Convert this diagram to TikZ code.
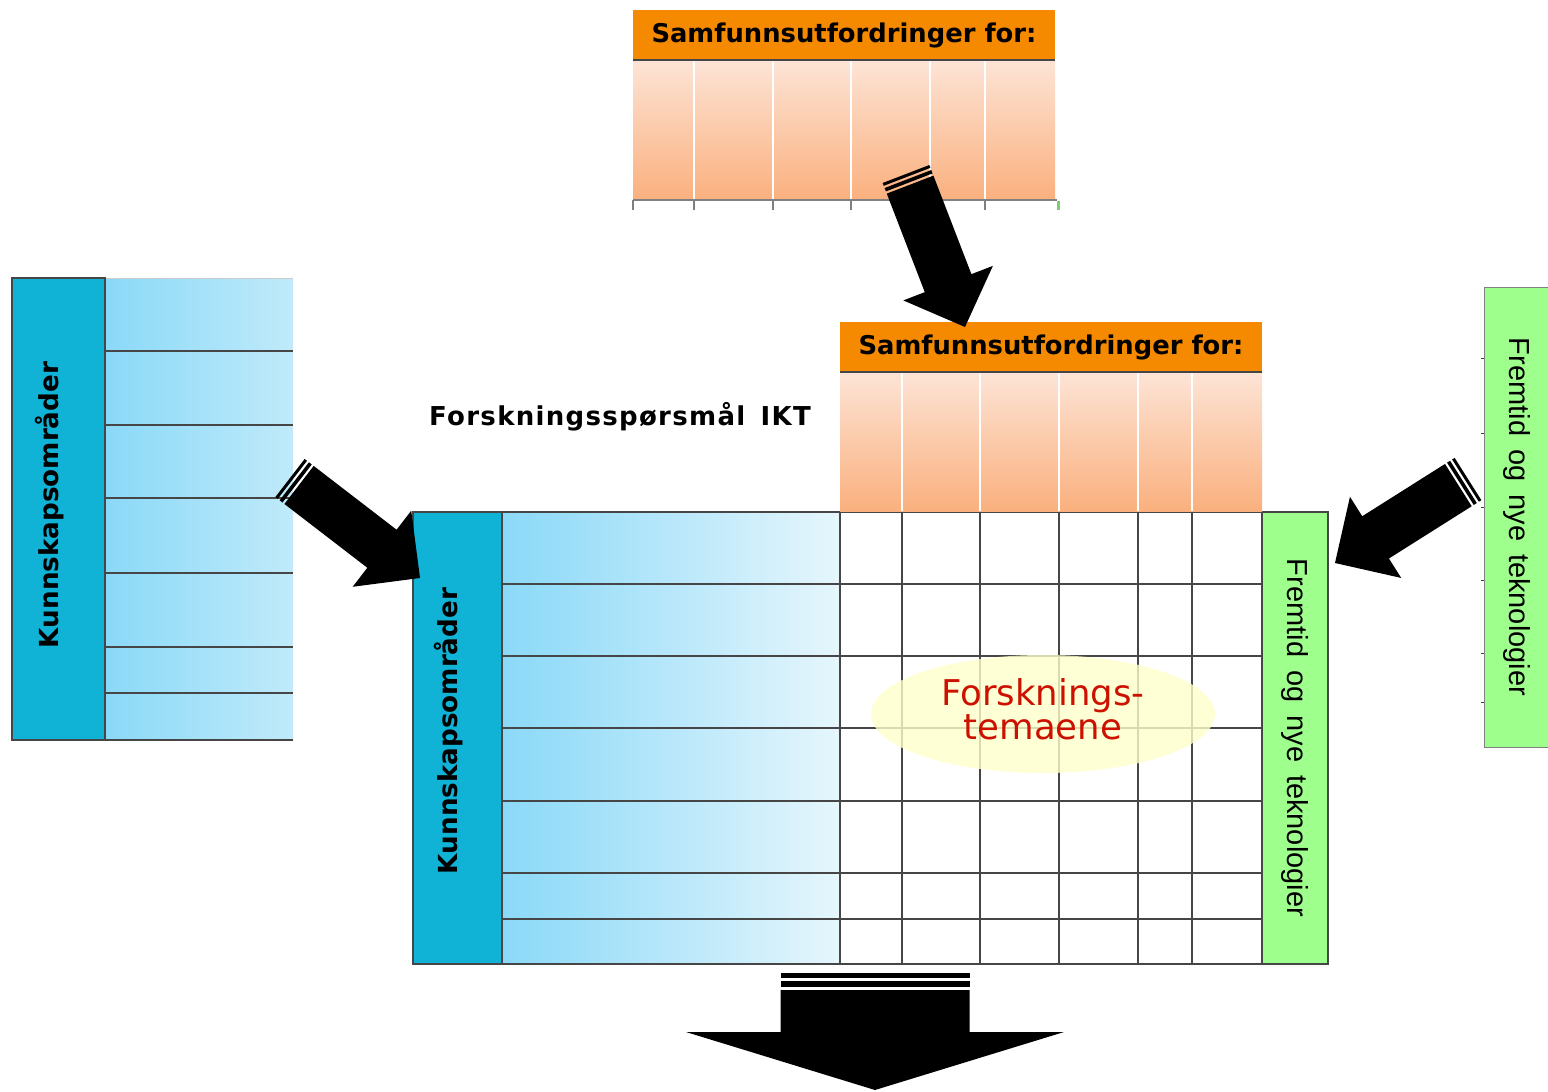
\documentclass[tikz,border=0pt]{standalone}
\usepackage{fontspec}
\setmainfont{DejaVu Sans}
\newfontfamily\arialfont{Liberation Sans}
\usetikzlibrary{calc,positioning,shapes.geometric}

\definecolor{headorange}{RGB}{245,138,0}
\definecolor{peachtop}{RGB}{253,228,214}
\definecolor{peachbot}{RGB}{250,176,126}
\definecolor{kunnteal}{RGB}{16,178,214}
\definecolor{bluedark}{RGB}{138,217,248}
\definecolor{bluemid}{RGB}{192,234,249}
\definecolor{bluelight}{RGB}{230,246,252}
\definecolor{techgreen}{RGB}{158,255,140}
\definecolor{gridgray}{RGB}{70,70,70}
\definecolor{temared}{RGB}{204,17,0}
\definecolor{ovalyellow}{RGB}{255,255,204}

\tikzset{
  headbox/.style={fill=headorange, minimum width=422pt, minimum height=50pt, inner sep=0pt,
    font=\bfseries\fontsize{25.8}{30}\selectfont},
  kunntext/.style={rotate=90, font=\bfseries\fontsize{26.2}{30}\selectfont},
  techtext/.style={rotate=-90, font=\arialfont\fontsize{29}{34}\selectfont},
  gridline/.style={draw=gridgray, line width=1.5pt},
  whiteline/.style={draw=white, line width=1.5pt},
}
\newcommand{\wsp}{\hspace{13pt}}

% points on a block arrow: along the axis from the tail, and across the head
\newcommand{\axpt}[2]{($($(ba-t)!#1!(ba-p)$)!#2!90:(ba-p)$)}
\newcommand{\hdpt}[1]{($(ba-h)!#1!-90:(ba-t)$)}
% tail, tip, half shaft, half head, head length, stripe
\newcommand{\bigarrow}[6]{%
  \path (#1) coordinate (ba-t) (#2) coordinate (ba-p) ($(#2)!#5!(#1)$) coordinate (ba-h);
  \fill[black] \axpt{0pt}{#3} -- \axpt{#6}{#3} -- \axpt{#6}{-#3} -- \axpt{0pt}{-#3} -- cycle;
  \fill[black] \axpt{1.8*#6}{#3} -- \axpt{3*#6}{#3} -- \axpt{3*#6}{-#3} -- \axpt{1.8*#6}{-#3} -- cycle;
  \fill[black] \axpt{3.8*#6}{#3} -- \hdpt{#3} -- \hdpt{#4} -- (ba-p) -- \hdpt{-#4} -- \hdpt{-#3} -- \axpt{3.8*#6}{-#3} -- cycle;
}

\begin{document}
\begin{tikzpicture}[x=1pt,y=-1pt]
  \useasboundingbox (0,0) rectangle (1548,1092);
  \fill[white] (0,0) rectangle (1548,1092);

  % upper orange table
  \shade[top color=peachtop, bottom color=peachbot] (633,60) rectangle (1055,200);
  \foreach \c in {694,773,851,930,985} \draw[whiteline] (\c,60) -- (\c,200);
  \draw[gray, line width=1.5pt] (633,200) -- (1057,200);
  \foreach \c in {633,694,773,851,930,985} \draw[gray, line width=1.5pt] (\c,200) -- (\c,210);
  \draw[techgreen!80!black, line width=3pt] (1058,201) -- (1058,210);
  \node[headbox] (sam1) at (844,35) {Samfunnsutfordringer for:};
  \draw[gridgray, line width=2pt] (sam1.south west) -- (sam1.south east);

  % left table
  \shade[left color=bluedark, right color=bluemid] (105,278) rectangle (293,740);
  \foreach \r in {351,425,498,573,647,693,740} \draw[gridline] (105,\r) -- (293,\r);
  \draw[gray!40, line width=1pt] (105,278) -- (293,278);
  \draw[fill=kunnteal, gridline] (12,278) rectangle (105,740);
  \node[kunntext] (kunn1) at (50,505) {Kunnskapsområder};

  % main table
  \shade[left color=bluedark, right color=bluelight] (502,512) rectangle (840,964);
  \fill[kunnteal] (413,512) rectangle (502,964);
  \fill[techgreen] (1262,512) rectangle (1328,964);
  \foreach \r in {584,656,728,801,873,919} \draw[gridline] (502,\r) -- (1262,\r);
  \foreach \c in {502,840,902,980,1059,1138,1192,1262} \draw[gridline] (\c,512) -- (\c,964);
  \draw[gridline] (413,512) rectangle (1328,964);
  \node[kunntext] (kunn2) at (449,731) {Kunnskapsområder};
  \node[techtext] (tech2) at (1295,738) {Fremtid\wsp og\wsp nye\wsp teknologier};

  % middle orange table
  \shade[top color=peachtop, bottom color=peachbot] (840,372) rectangle (1262,511);
  \foreach \c in {902,980,1059,1138,1192} \draw[whiteline] (\c,372) -- (\c,511);
  \node[headbox] (sam2) at (1051,347) {Samfunnsutfordringer for:};
  \draw[gridgray, line width=2pt] (sam2.south west) -- (sam2.south east);

  % right green column
  \draw[fill=techgreen, draw=gray, line width=1pt] (1484,287) rectangle (1552,747);
  \foreach \r in {358,433,507,580,653,702} \draw[gridgray, line width=1pt] (1481,\r) -- (1484,\r);
  \node[techtext] (tech1) at (1517,517) {Fremtid\wsp og\wsp nye\wsp teknologier};

  \node[font=\bfseries\fontsize{26}{30}\selectfont\addfontfeature{LetterSpace=5}] (ikt) at (620,417) {Forskningsspørsmål\hspace{5pt} IKT};

  % oval
  \node[ellipse, fill=ovalyellow, fill opacity=0.8, minimum width=344pt, minimum height=118pt, inner sep=0pt] (tema) at (1043,714) {};
  \node[text=temared, align=center, font=\fontsize{35.5}{34}\selectfont, yshift=5pt] (tematext) at (tema) {Forsknings-\\temaene};

  % block arrows
  \coordinate (toptail) at (906,174);
  \coordinate (toptip) at (965,327);
  \coordinate (lefttail) at (290,478);
  \coordinate (lefttip) at (420,578);
  \coordinate (righttail) at (1468,479);
  \coordinate (righttip) at (1335,563);
  \coordinate (downtail) at (875,973);
  \coordinate (downtip) at (875,1090);
  \bigarrow{toptail}{toptip}{25pt}{48pt}{47pt}{3pt}
  \bigarrow{lefttail}{lefttip}{24pt}{48pt}{48pt}{3pt}
  \bigarrow{righttail}{righttip}{25pt}{48pt}{48pt}{3pt}
  \bigarrow{downtail}{downtip}{94.5pt}{189pt}{58pt}{4.5pt}
\end{tikzpicture}
\end{document}
